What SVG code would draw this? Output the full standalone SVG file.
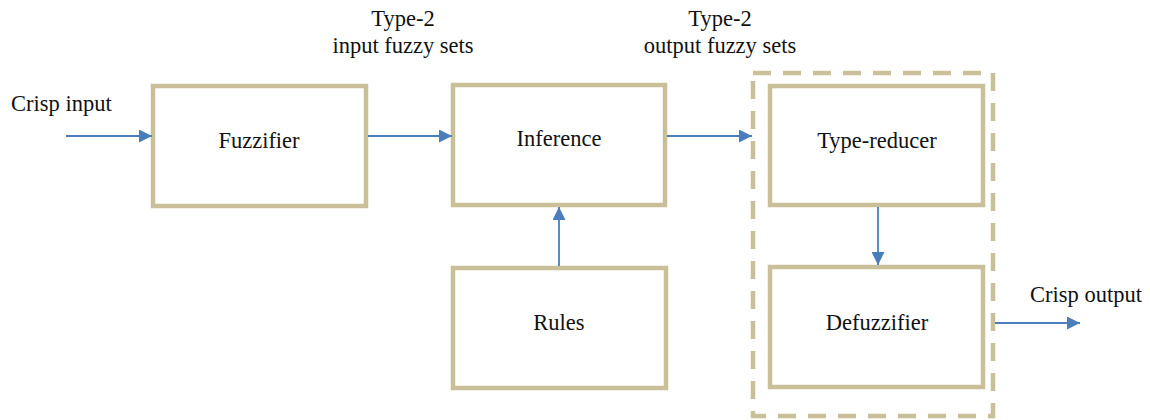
<svg xmlns="http://www.w3.org/2000/svg" width="1150" height="420" viewBox="0 0 1150 420">
<defs>
<style>
.box{fill:#fff;stroke:#C9BF98;stroke-width:4.5}
.dash{fill:none;stroke:#C9BF98;stroke-width:4.5;stroke-dasharray:18 12}
.lbl{font-family:"Liberation Serif","Times New Roman",serif;font-size:22.5px;fill:#111}
.mid{text-anchor:middle}
</style>
<marker id="arr" viewBox="0 0 13 13" refX="13" refY="6.5" markerWidth="13" markerHeight="13" markerUnits="userSpaceOnUse" orient="auto">
<path d="M0,0 L13,6.5 L0,13 Z" fill="#4A7EBB"/>
</marker>
</defs>
<rect class="dash" x="753" y="73" width="240" height="343"/>
<g id="fuzzifier"><rect class="box" x="153" y="86" width="213" height="120"/><text class="lbl mid" x="259" y="148">Fuzzifier</text></g>
<g id="inference"><rect class="box" x="453" y="85" width="212" height="120"/><text class="lbl mid" x="559" y="146">Inference</text></g>
<g id="rules"><rect class="box" x="453" y="268" width="213" height="120"/><text class="lbl mid" x="559" y="330">Rules</text></g>
<g id="typereducer"><rect class="box" x="770" y="86" width="213" height="119"/><text class="lbl mid" x="877" y="148">Type-reducer</text></g>
<g id="defuzzifier"><rect class="box" x="770" y="267" width="213" height="120"/><text class="lbl mid" x="877" y="330">Defuzzifier</text></g>
<g id="labels">
<text class="lbl" x="11" y="111">Crisp input</text>
<text class="lbl mid" x="403" y="26">Type-2</text>
<text class="lbl mid" x="403" y="53">input fuzzy sets</text>
<text class="lbl mid" x="720" y="26">Type-2</text>
<text class="lbl mid" x="720" y="53">output fuzzy sets</text>
<text class="lbl" x="1030" y="302">Crisp output</text>
</g>
<g id="connectors" stroke="#4A7EBB" stroke-width="1.8" fill="none">
<line x1="66" y1="136" x2="152" y2="136" marker-end="url(#arr)"/>
<line x1="368" y1="136" x2="452" y2="136" marker-end="url(#arr)"/>
<line x1="667" y1="136" x2="752" y2="136" marker-end="url(#arr)"/>
<line x1="559" y1="266" x2="559" y2="207" marker-end="url(#arr)"/>
<line x1="878" y1="207" x2="878" y2="265" marker-end="url(#arr)"/>
<line x1="995" y1="323" x2="1080" y2="323" marker-end="url(#arr)"/>
</g>
</svg>
